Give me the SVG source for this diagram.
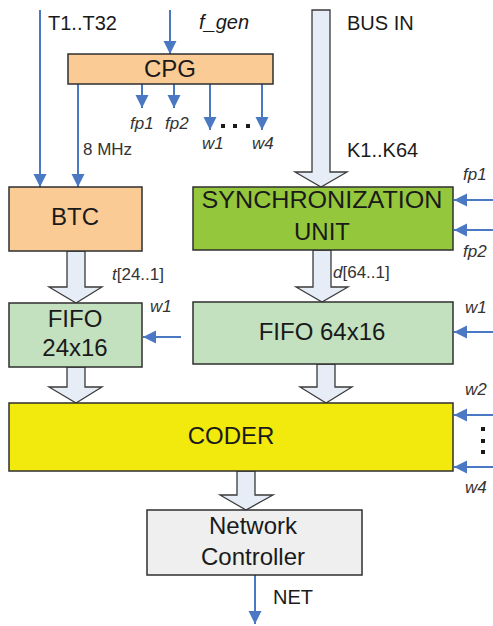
<svg xmlns="http://www.w3.org/2000/svg" width="493" height="626" viewBox="0 0 493 626">
  <defs>
    <marker id="ah" markerUnits="userSpaceOnUse" markerWidth="14" markerHeight="14" viewBox="0 0 14 14" refX="13" refY="7" orient="auto">
      <path d="M0,0.5 L13,7 L0,13.5 Z" fill="#4A78C2"/>
    </marker>
    <style>
      .box { stroke: #2F2F2F; stroke-width: 1.5; }
      .peach { fill: #FBCB96; }
      .green { fill: #95C73D; }
      .lgreen { fill: #C3E1BF; }
      .yellow { fill: #F1EA0C; }
      .grey { fill: #EEEFEE; }
      .big { font-family: "Liberation Sans", Arial, sans-serif; font-size: 24px; fill: #1A1A1A; text-anchor: middle; }
      .lbl { font-family: "Liberation Sans", Arial, sans-serif; font-size: 20px; fill: #1A1A1A; }
      .sig { font-family: "Liberation Sans", Arial, sans-serif; font-size: 17px; font-style: italic; fill: #333; }
      .bus { font-family: "Liberation Sans", Arial, sans-serif; font-size: 17px; fill: #333; }
      .wire { stroke: #4A78C2; stroke-width: 2; fill: none; marker-end: url(#ah); }
      .barrow { fill: #E6EDF6; stroke: #3A3A3A; stroke-width: 1.3; stroke-linejoin: miter; }
      .dot { fill: #1A1A1A; }
    </style>
  </defs>

  <!-- connectors -->
  <g id="connectors">
    <!-- wide bus arrows -->
    <path class="barrow" d="M312,10 L330,10 L330,172 L347,172 L321,187 L295,172 L312,172 Z"/>
    <path class="barrow" d="M67,251 L85,251 L85,287 L102,287 L76,303 L49,287 L67,287 Z"/>
    <path class="barrow" d="M313,250 L331,250 L331,287 L348,287 L322,302 L296,287 L313,287 Z"/>
    <path class="barrow" d="M67,367 L85,367 L85,387 L102,387 L76,403 L49,387 L67,387 Z"/>
    <path class="barrow" d="M317,364 L335,364 L335,387 L352,387 L326,403 L300,387 L317,387 Z"/>
    <path class="barrow" d="M237,471 L255,471 L255,495 L273,495 L246,510 L220,495 L237,495 Z"/>

    <!-- single signal wires -->
    <line class="wire" x1="40" y1="10" x2="40" y2="187"/>
    <line class="wire" x1="170" y1="10" x2="170" y2="54"/>
    <line class="wire" x1="78" y1="84" x2="78" y2="187"/>
    <line class="wire" x1="142" y1="84" x2="142" y2="108"/>
    <line class="wire" x1="174" y1="84" x2="174" y2="108"/>
    <line class="wire" x1="210" y1="84" x2="210" y2="130"/>
    <line class="wire" x1="262" y1="84" x2="262" y2="130"/>
    <line class="wire" x1="493" y1="200" x2="454" y2="200"/>
    <line class="wire" x1="493" y1="230" x2="454" y2="230"/>
    <line class="wire" x1="181" y1="337" x2="143" y2="337"/>
    <line class="wire" x1="493" y1="332" x2="454" y2="332"/>
    <line class="wire" x1="493" y1="415" x2="454" y2="415"/>
    <line class="wire" x1="493" y1="467" x2="454" y2="467"/>
    <line class="wire" x1="255" y1="575" x2="255" y2="624"/>

    <!-- ellipsis dots -->
    <rect class="dot" x="221" y="124" width="4" height="4"/>
    <rect class="dot" x="233" y="124" width="4" height="4"/>
    <rect class="dot" x="246" y="124" width="4" height="4"/>
    <rect class="dot" x="481" y="427" width="4" height="4"/>
    <rect class="dot" x="481" y="439" width="4" height="4"/>
    <rect class="dot" x="481" y="450" width="4" height="4"/>

    <!-- wire labels -->
    <text class="lbl" x="48" y="30">T1..T32</text>
    <text class="lbl" x="199" y="29" font-style="italic">f_gen</text>
    <text class="lbl" x="347" y="30">BUS IN</text>
    <text class="lbl" x="347" y="157">K1..K64</text>
    <text class="bus" x="83" y="155">8 MHz</text>
    <text class="sig" x="130" y="129">fp1</text>
    <text class="sig" x="165" y="129">fp2</text>
    <text class="sig" x="202" y="149">w1</text>
    <text class="sig" x="252" y="149">w4</text>
    <text class="sig" x="463" y="180">fp1</text>
    <text class="sig" x="463" y="257">fp2</text>
    <text class="bus" x="112" y="280"><tspan font-style="italic">t</tspan>[24..1]</text>
    <text class="bus" x="333" y="278"><tspan font-style="italic">d</tspan>[64..1]</text>
    <text class="sig" x="150" y="312">w1</text>
    <text class="sig" x="465" y="313">w1</text>
    <text class="sig" x="465" y="395">w2</text>
    <text class="sig" x="465" y="493">w4</text>
    <text class="lbl" x="273" y="604">NET</text>
  </g>

  <g id="cpg">
    <rect class="box peach" x="68" y="54" width="205" height="30"/>
    <text class="big" x="170" y="77">CPG</text>
  </g>

  <g id="btc">
    <rect class="box peach" x="9" y="187" width="133" height="64"/>
    <text class="big" x="75" y="225">BTC</text>
  </g>

  <g id="sync-unit">
    <rect class="box green" x="193" y="187" width="260" height="63"/>
    <text class="big" x="322" y="208" textLength="241" lengthAdjust="spacingAndGlyphs">SYNCHRONIZATION</text>
    <text class="big" x="322" y="240">UNIT</text>
  </g>

  <g id="fifo-24x16">
    <rect class="box lgreen" x="9" y="303" width="133" height="64"/>
    <text class="big" x="75" y="327">FIFO</text>
    <text class="big" x="75" y="356">24x16</text>
  </g>

  <g id="fifo-64x16">
    <rect class="box lgreen" x="193" y="302" width="260" height="62"/>
    <text class="big" x="322" y="340">FIFO 64x16</text>
  </g>

  <g id="coder">
    <rect class="box yellow" x="9" y="403" width="444" height="68"/>
    <text class="big" x="231" y="444">CODER</text>
  </g>

  <g id="network-controller">
    <rect class="box grey" x="147" y="510" width="215" height="65"/>
    <text class="big" x="253" y="534">Network</text>
    <text class="big" x="253" y="565">Controller</text>
  </g>
</svg>
